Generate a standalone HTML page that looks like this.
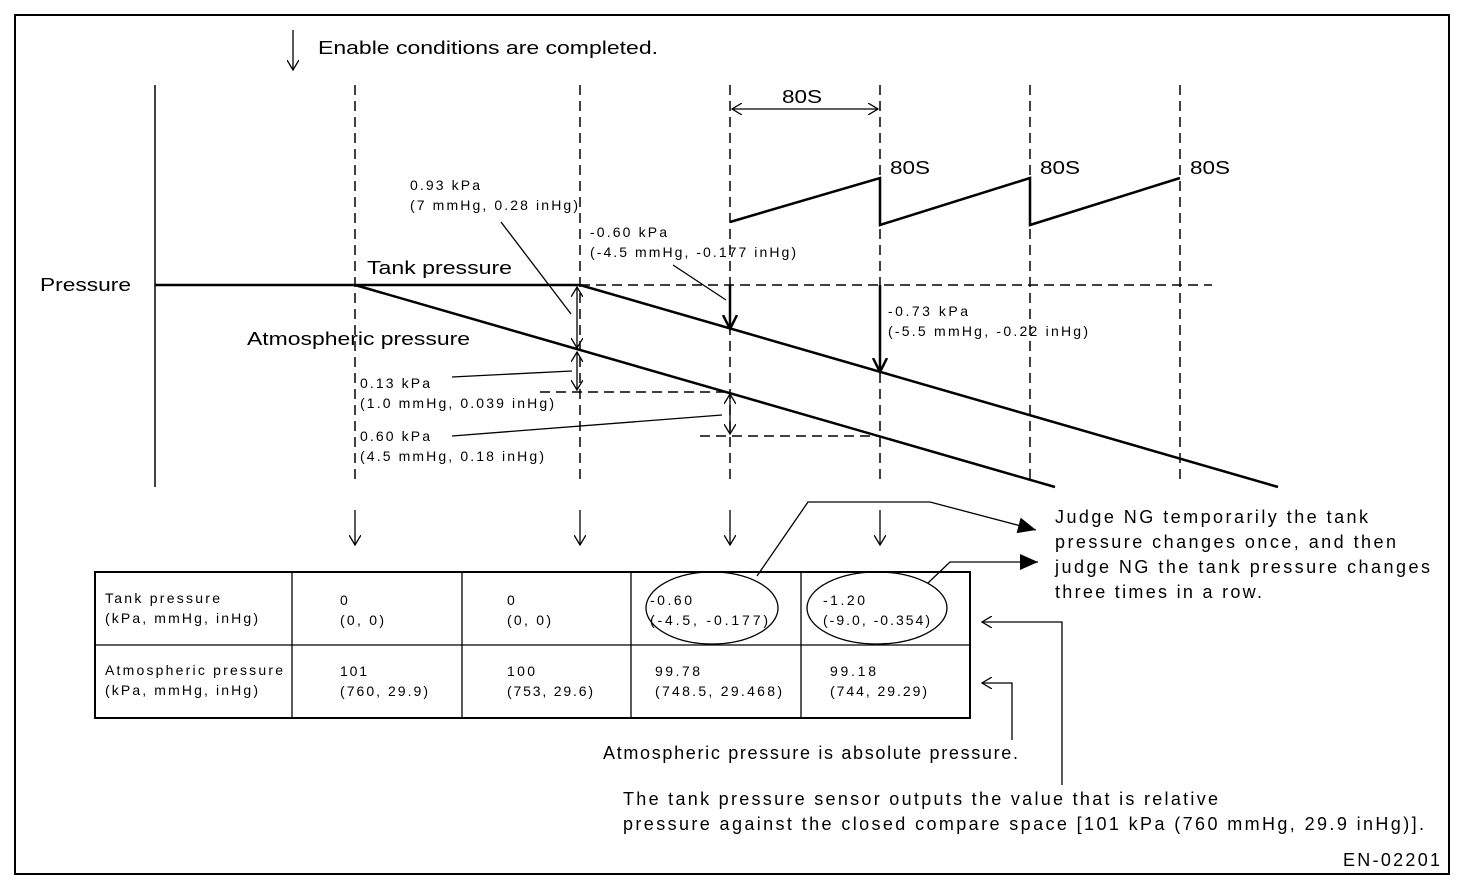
<!DOCTYPE html>
<html><head><meta charset="utf-8"><style>
body{margin:0;background:#fff}
svg{display:block}
text{font-family:"Liberation Sans",Arial,sans-serif;fill:#000}
.s{font-size:14px}.m{font-size:18px}
</style></head><body>
<svg width="1472" height="890" viewBox="0 0 1472 890" xmlns="http://www.w3.org/2000/svg">
<defs>
<marker id="oa" markerWidth="12" markerHeight="12" refX="10" refY="6" orient="auto-start-reverse" markerUnits="userSpaceOnUse"><path d="M0,0 L10,6 L0,12" fill="none" stroke="#000" stroke-width="1.3"/></marker>
<marker id="ta" markerWidth="16" markerHeight="16" refX="14" refY="8" orient="auto" markerUnits="userSpaceOnUse"><path d="M0,1 L14,8 L0,15" fill="none" stroke="#000" stroke-width="2.5"/></marker>
<marker id="fa" markerWidth="20" markerHeight="20" refX="18" refY="10" orient="auto" markerUnits="userSpaceOnUse"><path d="M0,2 L18,10 L0,18 Z" fill="#000"/></marker>
</defs>
<rect x="15" y="15" width="1434" height="859" fill="none" stroke="#000" stroke-width="2"/>
<line x1="293" y1="30" x2="293" y2="70" stroke="#000" stroke-width="1.3" marker-end="url(#oa)"/>
<text x="318" y="54" class="m" textLength="340" lengthAdjust="spacingAndGlyphs">Enable conditions are completed.</text>
<line x1="155" y1="85" x2="155" y2="487" stroke="#000" stroke-width="1.5"/>
<text x="40" y="291" class="m" textLength="91" lengthAdjust="spacingAndGlyphs">Pressure</text>
<g stroke="#000" stroke-width="1.5" stroke-dasharray="10,6" fill="none">
<line x1="355" y1="85" x2="355" y2="485"/>
<line x1="580" y1="85" x2="580" y2="485"/>
<line x1="730" y1="85" x2="730" y2="485"/>
<line x1="880" y1="85" x2="880" y2="485"/>
<line x1="1030" y1="85" x2="1030" y2="485"/>
<line x1="1180" y1="85" x2="1180" y2="485"/>
<line x1="580" y1="285" x2="1212" y2="285"/>
<line x1="540" y1="392" x2="730" y2="392"/>
<line x1="700" y1="436" x2="880" y2="436"/>
</g>
<g stroke="#000" stroke-width="1.3">
<line x1="355" y1="510" x2="355" y2="545" marker-end="url(#oa)"/>
<line x1="580" y1="510" x2="580" y2="545" marker-end="url(#oa)"/>
<line x1="730" y1="510" x2="730" y2="545" marker-end="url(#oa)"/>
<line x1="880" y1="510" x2="880" y2="545" marker-end="url(#oa)"/>
<line x1="732" y1="109" x2="878" y2="109" marker-end="url(#oa)" marker-start="url(#oa)"/>
</g>
<text x="782" y="103" class="m" textLength="40" lengthAdjust="spacingAndGlyphs">80S</text>
<polyline points="730,222 880,178 880,225 1030,178 1030,225 1180,178" fill="none" stroke="#000" stroke-width="2.5"/>
<text x="890" y="174" class="m" textLength="40" lengthAdjust="spacingAndGlyphs">80S</text><text x="1040" y="174" class="m" textLength="40" lengthAdjust="spacingAndGlyphs">80S</text><text x="1190" y="174" class="m" textLength="40" lengthAdjust="spacingAndGlyphs">80S</text>
<polyline points="155,285 580,285 1278,487" fill="none" stroke="#000" stroke-width="2.5"/>
<line x1="355" y1="285" x2="1055" y2="487" stroke="#000" stroke-width="2.5"/>
<text x="367" y="274" class="m" textLength="145" lengthAdjust="spacingAndGlyphs">Tank pressure</text>
<text x="247" y="345" class="m" textLength="223" lengthAdjust="spacingAndGlyphs">Atmospheric pressure</text>
<g stroke="#000" stroke-width="1.3">
<line x1="577" y1="318" x2="577" y2="287" marker-end="url(#oa)"/>
<line x1="577" y1="318" x2="577" y2="348" marker-end="url(#oa)"/>
<line x1="577" y1="371" x2="577" y2="352" marker-end="url(#oa)"/>
<line x1="577" y1="371" x2="577" y2="390" marker-end="url(#oa)"/>
<line x1="730" y1="414" x2="730" y2="394" marker-end="url(#oa)"/>
<line x1="730" y1="414" x2="730" y2="434" marker-end="url(#oa)"/>
<line x1="501" y1="222" x2="571" y2="314"/>
<line x1="673" y1="265" x2="726" y2="300"/>
<line x1="452" y1="377" x2="572" y2="371"/>
<line x1="452" y1="436" x2="722" y2="415"/>
</g>
<g stroke="#000" stroke-width="2.5">
<line x1="730" y1="285" x2="730" y2="329" marker-end="url(#ta)"/>
<line x1="880" y1="285" x2="880" y2="372" marker-end="url(#ta)"/>
</g>
<g class="s" lengthAdjust="spacingAndGlyphs">
<text x="410" y="190" textLength="70">0.93 kPa</text><text x="410" y="210" textLength="168">(7 mmHg, 0.28 inHg)</text>
<text x="590" y="237" textLength="77">-0.60 kPa</text><text x="590" y="257" textLength="206">(-4.5 mmHg, -0.177 inHg)</text>
<text x="888" y="316" textLength="80">-0.73 kPa</text><text x="888" y="336" textLength="200">(-5.5 mmHg, -0.22 inHg)</text>
<text x="360" y="388" textLength="70">0.13 kPa</text><text x="360" y="408" textLength="194">(1.0 mmHg, 0.039 inHg)</text>
<text x="360" y="441" textLength="70">0.60 kPa</text><text x="360" y="461" textLength="184">(4.5 mmHg, 0.18 inHg)</text>
</g>
<rect x="95" y="572" width="875" height="146" fill="none" stroke="#000" stroke-width="2"/>
<g stroke="#000" stroke-width="1.3">
<line x1="95" y1="645" x2="970" y2="645"/>
<line x1="292" y1="572" x2="292" y2="718"/>
<line x1="462" y1="572" x2="462" y2="718"/>
<line x1="631" y1="572" x2="631" y2="718"/>
<line x1="801" y1="572" x2="801" y2="718"/>
</g>
<g class="s" lengthAdjust="spacingAndGlyphs">
<text x="105" y="603" textLength="115">Tank pressure</text><text x="105" y="623" textLength="153">(kPa, mmHg, inHg)</text>
<text x="105" y="675" textLength="178">Atmospheric pressure</text><text x="105" y="695" textLength="153">(kPa, mmHg, inHg)</text>
<text x="340" y="605">0</text><text x="340" y="625" textLength="44">(0, 0)</text>
<text x="507" y="605">0</text><text x="507" y="625" textLength="44">(0, 0)</text>
<text x="650" y="605" textLength="42">-0.60</text><text x="650" y="625" textLength="118">(-4.5, -0.177)</text>
<text x="823" y="605" textLength="42">-1.20</text><text x="823" y="625" textLength="107">(-9.0, -0.354)</text>
<text x="340" y="676" textLength="27">101</text><text x="340" y="696" textLength="88">(760, 29.9)</text>
<text x="507" y="676" textLength="28">100</text><text x="507" y="696" textLength="86">(753, 29.6)</text>
<text x="655" y="676" textLength="45">99.78</text><text x="655" y="696" textLength="127">(748.5, 29.468)</text>
<text x="830" y="676" textLength="46">99.18</text><text x="830" y="696" textLength="97">(744, 29.29)</text>
</g>
<ellipse cx="712" cy="608" rx="66" ry="36" fill="none" stroke="#000" stroke-width="1.3"/>
<ellipse cx="877" cy="608" rx="70" ry="36" fill="none" stroke="#000" stroke-width="1.3"/>
<g stroke="#000" stroke-width="1.3" fill="none">
<polyline points="757,576 808,502 930,502 1036,530" marker-end="url(#fa)"/>
<polyline points="928,583 950,562 1038,562" marker-end="url(#fa)"/>
<polyline points="1062,785 1062,622 982,622" marker-end="url(#oa)"/>
<polyline points="1012,740 1012,683 982,683" marker-end="url(#oa)"/>
</g>
<g class="m" lengthAdjust="spacingAndGlyphs">
<text x="1055" y="523" textLength="313">Judge NG temporarily the tank</text>
<text x="1055" y="548" textLength="341">pressure changes once, and then</text>
<text x="1055" y="573" textLength="375">judge NG the tank pressure changes</text>
<text x="1055" y="598" textLength="207">three times in a row.</text>
<text x="603" y="759" textLength="415">Atmospheric pressure is absolute pressure.</text>
<text x="623" y="805" textLength="595">The tank pressure sensor outputs the value that is relative</text>
<text x="623" y="830" textLength="801">pressure against the closed compare space [101 kPa (760 mmHg, 29.9 inHg)].</text>
<text x="1343" y="866" textLength="97">EN-02201</text>
</g>
</svg>
</body></html>
